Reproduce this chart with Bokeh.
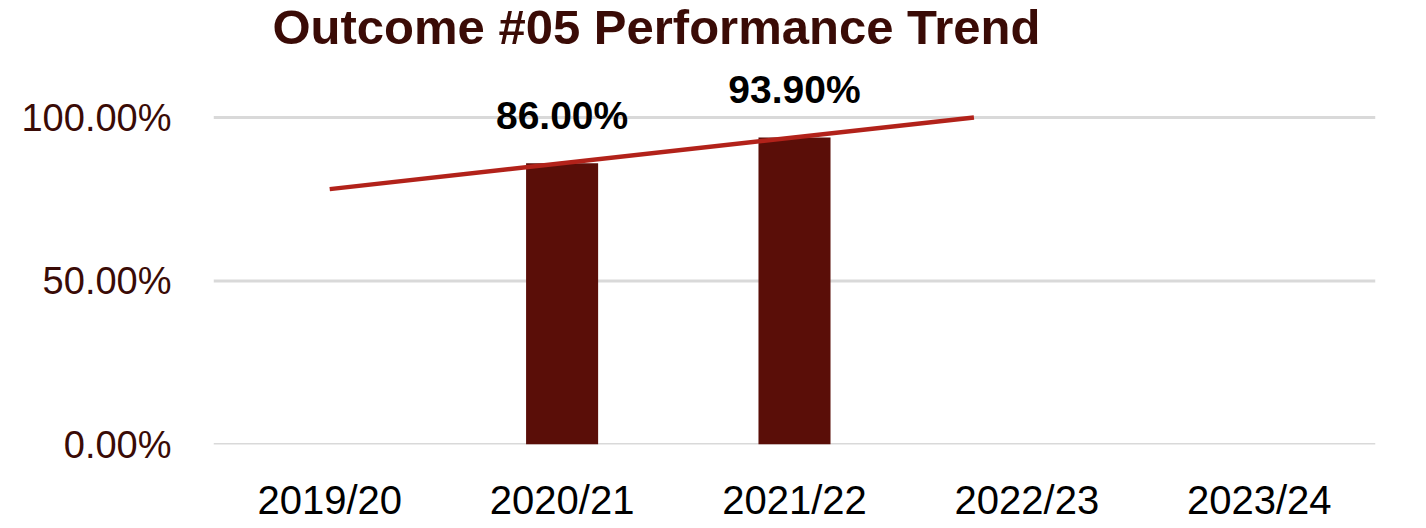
import numpy as np
from bokeh.plotting import figure
from bokeh.models import (FactorRange, Range1d, FixedTicker, PrintfTickFormatter, ColumnDataSource,
                          Label, LabelSet, Span)
from bokeh.core.properties import value
from bokeh.embed import file_html
from bokeh.resources import INLINE

categories = ["2019/20", "2020/21", "2021/22", "2022/23", "2023/24"]
bar_cats = ["2020/21", "2021/22"]
bar_values = [86.0, 93.9]
label_texts = ["86.00%", "93.90%"]
y_ticks = [0, 50, 100]
y_max = 100

# linear trendline fitted on the available values, starting at the first category
# and stopping where it reaches the axis maximum
idx = [categories.index(c) for c in bar_cats]
slope, intercept = np.polyfit(idx, bar_values, 1)
x_end = (y_max - intercept) / slope
trend_x = [0 + 0.5, x_end + 0.5]
trend_y = [intercept, y_max]

FONT = "Liberation Sans"

p = figure(x_range=FactorRange(*categories, range_padding=0), y_range=Range1d(0, 135.78),
           width=1410, height=524, output_backend="svg", toolbar_location=None,
           min_border_left=213, min_border_right=35, min_border_bottom=80, min_border_top=0)
p.outline_line_color = None
p.background_fill_color = "white"
p.border_fill_color = "white"

p.xgrid.grid_line_color = None
p.ygrid.grid_line_color = None
for t in y_ticks:
    p.add_layout(Span(location=t, dimension="width", line_color="#d9d9d9", line_width=3, level="underlay"))

src = ColumnDataSource(dict(x=bar_cats, top=bar_values, lab=label_texts))
p.vbar(x="x", top="top", bottom=0, width=0.31, source=src, fill_color="#5a0e08", line_color=None)
p.line(x=trend_x, y=trend_y, line_color="#b2221a", line_width=4.5)
p.add_layout(LabelSet(x="x", y="top", text="lab", source=src, text_align="center",
                      text_baseline="alphabetic", y_offset=34, text_font=value(FONT),
                      text_font_size=value("39px"), text_font_style=value("bold"), text_color=value("black")))

p.add_layout(Label(x=59, y=418, x_units="screen", y_units="screen",
                   text="Outcome #05 Performance Trend", text_align="left", text_baseline="alphabetic",
                   text_font=FONT, text_font_size="49px", text_font_style="bold", text_color="#3a0b06"))

p.yaxis.ticker = FixedTicker(ticks=y_ticks)
p.yaxis.formatter = PrintfTickFormatter(format="%.2f%%")
for ax in (p.xaxis[0], p.yaxis[0]):
    ax.axis_line_color = None
    ax.major_tick_line_color = None
    ax.minor_tick_line_color = None
    ax.major_label_text_font = FONT
p.yaxis.major_label_text_font_size = "38px"
p.yaxis.major_label_text_color = "#3a0b06"
p.yaxis.major_label_standoff = 36
p.xaxis.major_label_text_font_size = "40px"
p.xaxis.major_label_text_color = "black"
p.xaxis.major_label_standoff = 27

open("out.html", "w").write(file_html(p, INLINE))
